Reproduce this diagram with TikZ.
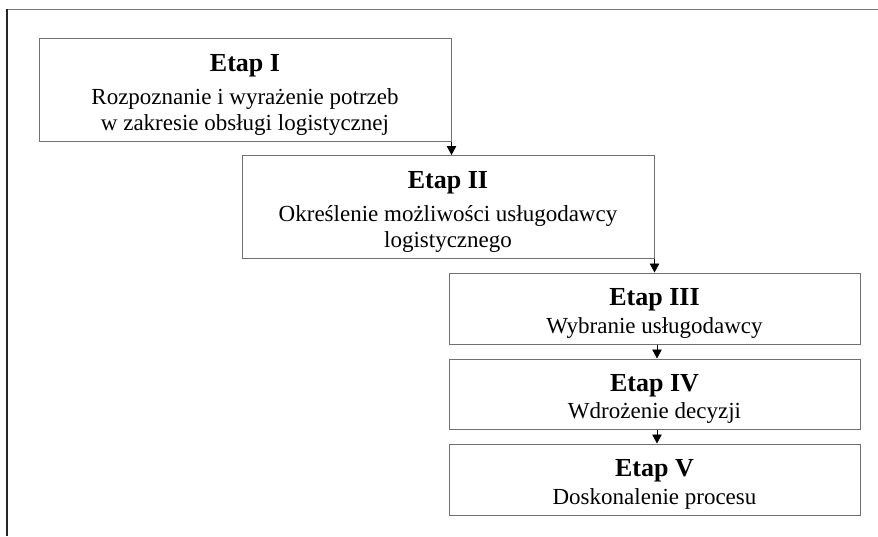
\documentclass[tikz,border=0pt]{standalone}
\usepackage{fontspec}
\setmainfont{Liberation Serif}
\usetikzlibrary{arrows.meta}
\definecolor{boxgray}{RGB}{112,112,112}
\definecolor{framegray}{RGB}{120,120,120}
\newcommand{\stagetitle}[1]{\rule{0pt}{27pt}{\fontsize{26}{26}\selectfont\bfseries #1}}
\begin{document}
\begin{tikzpicture}[x=1pt,y=-1pt,
  stagebox/.style={draw=boxgray, line width=1pt, inner sep=0pt, align=center,
    font=\fontsize{23}{26}\selectfont},
  flow/.style={line width=0.8pt, -{Triangle[width=9.5pt,length=9pt]}}]
\useasboundingbox (0,0) rectangle (878,536);
\draw[framegray, line width=1.2pt] (7,9.5) -- (878,9.5);
\draw[black!85, line width=1.2pt] (7,9) -- (7,536);

\node[stagebox, minimum width=412pt, minimum height=102.5pt] (b1) at (245,89.75)
  {\stagetitle{Etap I}\\[7.5pt]Rozpoznanie i wyrażenie potrzeb\\w zakresie obsługi logistycznej};
\node[stagebox, minimum width=412pt, minimum height=102.5pt] (b2) at (448,206.75)
  {\stagetitle{Etap II}\\[7.5pt]Określenie możliwości usługodawcy\\logistycznego};
\node[stagebox, minimum width=411pt, minimum height=71pt] (b3) at (654.5,308.5)
  {\stagetitle{Etap III}\\[1.5pt]Wybranie usługodawcy};
\node[stagebox, minimum width=411pt, minimum height=70pt] (b4) at (654.5,394)
  {\stagetitle{Etap IV}\\[1.5pt]Wdrożenie decyzji};
\node[stagebox, minimum width=411pt, minimum height=71pt] (b5) at (654.5,479.5)
  {\stagetitle{Etap V}\\[1.5pt]Doskonalenie procesu};

\draw[flow] (b1.south east) -- (b1.south east |- b2.north);
\draw[flow] (b2.south east) -- (b2.south east |- b3.north);
\draw[flow] ([xshift=2.5pt]b3.south) -- ([xshift=2.5pt]b4.north);
\draw[flow] ([xshift=2.5pt]b4.south) -- ([xshift=2.5pt]b5.north);
\end{tikzpicture}
\end{document}
